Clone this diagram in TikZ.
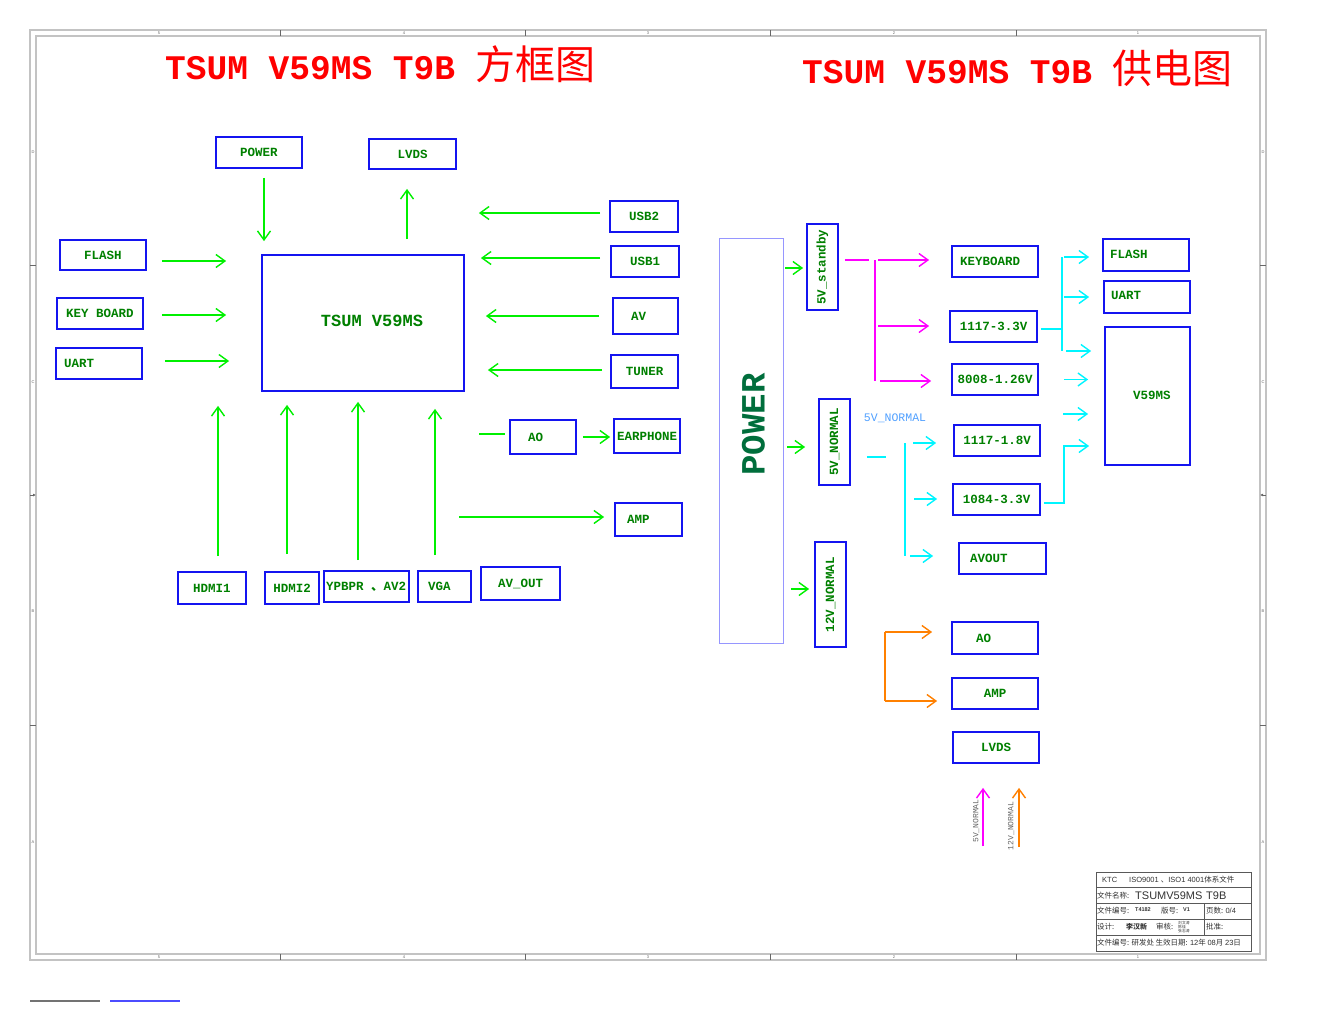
\documentclass[tikz,border=0pt]{standalone}
\usepackage{fontspec}
\usepackage{graphicx}
\setmainfont{Liberation Sans}
\setmonofont{Liberation Mono}
\newfontfamily\cjk{Noto Sans CJK SC}
\usetikzlibrary{arrows.meta,calc}
\definecolor{bxblue}{RGB}{20,20,240}
\definecolor{txgreen}{RGB}{0,128,0}
\definecolor{argreen}{RGB}{0,240,0}
\definecolor{mag}{RGB}{255,0,255}
\definecolor{cyn}{RGB}{0,245,255}
\definecolor{org}{RGB}{255,128,0}
\definecolor{frm}{RGB}{195,195,195}
\definecolor{pwrgreen}{RGB}{0,110,60}
\definecolor{lblue}{RGB}{80,160,255}
\definecolor{pwrbox}{RGB}{150,150,255}
\tikzset{
  bx/.style={draw=bxblue, line width=1.8pt, inner sep=0pt, text=txgreen,
    font=\ttfamily\bfseries\fontsize{12.5}{14}\selectfont},
  tipb/.style={-{Straight Barb[length=9pt,width=13pt]}},
  ga/.style={draw=argreen, line width=1.4pt, tipb},
  gl/.style={draw=argreen, line width=1.4pt},
  ma/.style={draw=mag, line width=1.4pt, tipb},
  ml/.style={draw=mag, line width=1.4pt},
  ca/.style={draw=cyn, line width=1.4pt, tipb},
  cl/.style={draw=cyn, line width=1.4pt},
  oa/.style={draw=org, line width=1.4pt, tipb},
  ol/.style={draw=org, line width=1.4pt},
  ttl/.style={anchor=base west, inner sep=0pt, text=red},
  tick/.style={draw=black!60, line width=0.6pt},
  flab/.style={fill=white, inner sep=0.5pt, text=black!60, font=\fontsize{4}{4}\selectfont},
  tb/.style={anchor=west, inner sep=0pt, text=black!80, font=\cjk\fontsize{7.5}{8}\selectfont},
}
\begin{document}
\begin{tikzpicture}[x=1pt,y=-1pt]
\useasboundingbox[fill=white] (0,0) rectangle (1320,1020);
% frame
\draw[frm, line width=1.5pt] (30,30) rectangle (1266,960);
\draw[frm, line width=1.5pt] (36,36) rectangle (1260,954);
\foreach \x in {280,525,770,1016} {
  \draw[tick] (\x,30) -- (\x,36);
  \draw[tick] (\x,954) -- (\x,960);
}
\foreach \y in {265,725} {
  \draw[tick] (30,\y) -- (36,\y);
  \draw[tick] (1260,\y) -- (1266,\y);
}
\draw[tick, -{Latex[length=3pt,width=3pt]}] (30,495) -- (36,495);
\draw[tick, -{Latex[length=3pt,width=3pt]}] (1266,495) -- (1260,495);
\foreach \x/\t in {159/5,404/4,648/3,894/2,1138/1} {
  \node[flab] (ft\t) at (\x,33) {\t};
  \node[flab] (fb\t) at (\x,957) {\t};
}
\foreach \y/\t in {152/D,382/C,611/B,842/A} {
  \node[flab] (fl\t) at (33,\y) {\t};
  \node[flab] (fr\t) at (1263,\y) {\t};
}
% titles
\node[ttl] (title1) at (165,79) {\ttfamily\bfseries\fontsize{34.5}{40}\selectfont TSUM V59MS T9B \cjk\mdseries\fontsize{40}{42}\selectfont 方框图};
\node[ttl] (title2) at (802,83) {\ttfamily\bfseries\fontsize{34.5}{40}\selectfont TSUM V59MS T9B \cjk\mdseries\fontsize{40}{42}\selectfont 供电图};

% ---------- left block diagram ----------
\node[bx, minimum width=86pt, minimum height=31pt] (power) at (259,152.5) {POWER};
\node[bx, minimum width=87pt, minimum height=30pt] (lvds) at (412.5,154) {LVDS};
\node[bx, minimum width=86pt, minimum height=30pt] (flash) at (103,255) {FLASH};
\node[bx, minimum width=86pt, minimum height=31pt] (keyb) at (100,313.5) {KEY BOARD};
\node[bx, minimum width=86pt, minimum height=31pt] (uart) at (99,363.5) {\makebox[86pt][l]{\hspace{8pt}UART}};
\node[bx, minimum width=202pt, minimum height=136pt, font=\ttfamily\bfseries\fontsize{17}{19}\selectfont] (tsum) at (363,323) {\raisebox{4pt}{\hspace*{18pt}TSUM V59MS}};
\node[bx, minimum width=68pt, minimum height=31pt] (usb2) at (644,216.5) {USB2};
\node[bx, minimum width=68pt, minimum height=31pt] (usb1) at (645,261.5) {USB1};
\node[bx, minimum width=65pt, minimum height=36pt] (av) at (645.5,316) {\makebox[65pt][l]{\hspace{18pt}AV}};
\node[bx, minimum width=67pt, minimum height=33pt] (tuner) at (644.5,371.5) {TUNER};
\node[bx, minimum width=66pt, minimum height=34pt] (ao) at (543,437) {\makebox[66pt][l]{\hspace{18pt}AO}};
\node[bx, minimum width=66pt, minimum height=34pt] (earph) at (647,436) {\makebox[66pt][c]{EARPHONE}};
\node[bx, minimum width=67pt, minimum height=33pt] (amp) at (648.5,519.5) {\makebox[67pt][l]{\hspace{12pt}AMP}};
\node[bx, minimum width=68pt, minimum height=32pt] (hdmi1) at (212,588) {HDMI1};
\node[bx, minimum width=54pt, minimum height=32pt] (hdmi2) at (292,588) {HDMI2};
\node[bx, minimum width=85pt, minimum height=31pt] (ypbpr) at (366.5,586.5) {\makebox[85pt][l]{\hspace{2pt}YPBPR {\cjk 、}AV2}};
\node[bx, minimum width=53pt, minimum height=31pt] (vga) at (444.5,586.5) {\makebox[53pt][l]{\hspace{10pt}VGA}};
\node[bx, minimum width=79pt, minimum height=33pt] (avout) at (520.5,583.5) {AV\_OUT};

\draw[ga, shorten <=9pt, shorten >=13pt] ([xshift=5pt]power.south) -- ([xshift=5pt]power.south |- tsum.north);
\draw[ga, shorten <=15pt, shorten >=19pt] ([xshift=-5.5pt]lvds.south |- tsum.north) -- ([xshift=-5.5pt]lvds.south);
\draw[ga, shorten <=15pt, shorten >=35pt] ([yshift=-6pt]flash.east) -- ([yshift=-6pt]flash.east -| tsum.west);
\draw[ga, shorten <=18pt, shorten >=35pt] ([yshift=-1.5pt]keyb.east) -- ([yshift=-1.5pt]keyb.east -| tsum.west);
\draw[ga, shorten <=22pt, shorten >=32pt] ([yshift=2.5pt]uart.east) -- ([yshift=2.5pt]uart.east -| tsum.west);
\draw[ga, shorten <=9pt, shorten >=14pt] ([yshift=3.5pt]usb2.west) -- ([yshift=3.5pt]usb2.west -| tsum.east);
\draw[ga, shorten <=10pt, shorten >=16pt] ([yshift=3.5pt]usb1.west) -- ([yshift=3.5pt]usb1.west -| tsum.east);
\draw[ga, shorten <=13pt, shorten >=21pt] (av.west) -- (av.west -| tsum.east);
\draw[ga, shorten <=8pt, shorten >=23pt] ([yshift=1.5pt]tuner.west) -- ([yshift=1.5pt]tuner.west -| tsum.east);
\coordinate (aoin) at (479,434);
\draw[gl, shorten >=4pt] (aoin) -- ([yshift=3pt]ao.west);
\draw[ga, shorten <=6pt, shorten >=3pt] (ao.east) -- (ao.east -| earph.west);
\coordinate (ampin) at (459,517);
\draw[ga, shorten >=10pt] (ampin) -- ([yshift=2.5pt]amp.west);
\draw[ga, shorten <=15pt, shorten >=14pt] ([xshift=6pt]hdmi1.north) -- ([xshift=6pt]hdmi1.north |- tsum.south);
\draw[ga, shorten <=17pt, shorten >=13pt] ([xshift=-5pt]hdmi2.north) -- ([xshift=-5pt]hdmi2.north |- tsum.south);
\draw[ga, shorten <=10pt, shorten >=10pt] ([xshift=-8.5pt]ypbpr.north) -- ([xshift=-8.5pt]ypbpr.north |- tsum.south);
\draw[ga, shorten <=15pt, shorten >=17pt] ([xshift=-9.5pt]vga.north) -- ([xshift=-9.5pt]vga.north |- tsum.south);

% ---------- right power diagram ----------
\node[draw=pwrbox, line width=0.8pt, minimum width=64pt, minimum height=405pt, inner sep=0pt, text=pwrgreen,
  font=\ttfamily\bfseries\fontsize{34}{36}\selectfont] (pwr) at (751,440.5) {\hspace*{5pt}\rotatebox{90}{\hspace*{32pt}POWER}};
\node[bx, minimum width=31pt, minimum height=86pt] (s5) at (822.5,267) {\rotatebox{90}{5V\_standby}};
\node[bx, minimum width=31pt, minimum height=86pt] (n5) at (834.5,442) {\rotatebox{90}{5V\_NORMAL}};
\node[bx, minimum width=31pt, minimum height=105pt] (n12) at (830.5,594.5) {\rotatebox{90}{12V\_NORMAL}};
\node[bx, minimum width=86pt, minimum height=31pt] (kb) at (995,261.5) {\makebox[86pt][l]{\hspace{8pt}KEYBOARD}};
\node[bx, minimum width=87pt, minimum height=31pt] (v33a) at (993.5,326.5) {1117-3.3V};
\node[bx, minimum width=86pt, minimum height=31pt] (v126) at (995,379.5) {8008-1.26V};
\node[bx, minimum width=86pt, minimum height=31pt] (v18) at (997,440.5) {1117-1.8V};
\node[bx, minimum width=87pt, minimum height=31pt] (v84) at (996.5,499.5) {1084-3.3V};
\node[bx, minimum width=87pt, minimum height=31pt] (avo) at (1002.5,558.5) {\makebox[87pt][l]{\hspace{11pt}AVOUT}};
\node[bx, minimum width=86pt, minimum height=32pt] (ao2) at (995,638) {\makebox[86pt][l]{\hspace{24pt}AO}};
\node[bx, minimum width=86pt, minimum height=31pt] (amp2) at (995,693.5) {AMP};
\node[bx, minimum width=86pt, minimum height=31pt] (lvds2) at (996,747.5) {LVDS};
\node[bx, minimum width=86pt, minimum height=32pt] (fl2) at (1146,255) {\makebox[86pt][l]{\hspace{7pt}\raisebox{2pt}{FLASH}}};
\node[bx, minimum width=86pt, minimum height=32pt] (ua2) at (1147,297) {\makebox[86pt][l]{\hspace{7pt}\raisebox{3pt}{UART}}};
\node[bx, minimum width=85pt, minimum height=138pt] (v59) at (1147.5,396) {\makebox[85pt][l]{\hspace{28pt}\raisebox{2pt}{V59MS}}};

\node[inner sep=0pt, text=lblue, font=\ttfamily\fontsize{11.5}{12}\selectfont] (n5lab) at (895,418) {5V\_NORMAL};

% green from POWER
\draw[ga, shorten <=2pt, shorten >=3pt] ([yshift=-1pt]s5.west -| pwr.east) -- ([yshift=-1pt]s5.west);
\draw[ga, shorten <=4pt, shorten >=13pt] ([yshift=-5pt]n5.west -| pwr.east) -- ([yshift=-5pt]n5.west);
\draw[ga, shorten <=8pt, shorten >=5pt] ([yshift=5.5pt]n12.west -| pwr.east) -- ([yshift=5.5pt]n12.west);

% magenta
\coordinate (mj1) at (875,260);
\coordinate (mj2) at (875,326);
\coordinate (mj3) at (875,381);
\draw[ml, shorten <=6pt, shorten >=6pt] ([yshift=7pt]s5.east) -- (mj1);
\draw[ml] (mj1) -- (mj3);
\draw[ma, shorten <=3pt, shorten >=22pt] (mj1) -- (mj1 -| kb.west);
\draw[ma, shorten <=3pt, shorten >=20pt] (mj2) -- (mj2 -| v33a.west);
\draw[ma, shorten <=5pt, shorten >=20pt] (mj3) -- (mj3 -| v126.west);

% cyan left
\coordinate (cj0) at (886,457);
\coordinate (cj1) at (905,443);
\coordinate (cj2) at (905,499);
\coordinate (cj3) at (905,556);
\draw[cl, shorten <=16pt] ([yshift=-15pt]n5.east) -- (cj0);
\draw[cl] (cj1) -- (cj3);
\draw[ca, shorten <=8pt, shorten >=17pt] (cj1) -- (cj1 -| v18.west);
\draw[ca, shorten <=9pt, shorten >=15pt] (cj2) -- (cj2 -| v84.west);
\draw[ca, shorten <=5pt, shorten >=25pt] (cj3) -- (cj3 -| avo.west);

% cyan right
\coordinate (rj1) at (1062,257);
\coordinate (rj3) at (1062,351);
\coordinate (c414) at (1063,414);
\coordinate (rb) at (1064,446);
\draw[cl] (rj1) -- (rj3);
\draw[cl, shorten <=3pt] ([yshift=-2.5pt]v33a.east) -- ([yshift=-2.5pt]v33a.east -| rj1);
\draw[ca, shorten <=2pt, shorten >=13pt] (rj1) -- (rj1 -| fl2.west);
\draw[ca, shorten <=2pt, shorten >=14pt] (rj1 |- ua2.west) -- (ua2.west);
\draw[ca, shorten <=4pt, shorten >=13pt] (rj3) -- (rj3 -| v59.west);
\draw[ca, shorten <=25pt, shorten >=16pt] (v126.east) -- (v126.east -| v59.west);
\draw[ca, shorten >=16pt] (c414) -- (c414 -| v59.west);
\draw[ca, shorten <=3pt, shorten >=15pt] ([yshift=-3.5pt]v84.east) -| (rb) -- (rb -| v59.west);

% orange
\coordinate (oj1) at (885,632);
\coordinate (oj2) at (885,701);
\draw[ol] (oj1) -- (oj2);
\draw[oa, shorten >=19pt] (oj1) -- (oj1 -| ao2.west);
\draw[oa, shorten >=14pt] (oj2) -- (oj2 -| amp2.west);

% bottom supply arrows
\coordinate (bm) at (983,846);
\coordinate (bo) at (1019,847);
\draw[ma, shorten >=24pt] (bm) -- (bm |- lvds2.south);
\draw[oa, shorten >=24pt] (bo) -- (bo |- lvds2.south);
\node[rotate=90, inner sep=0pt, text=black!60, font=\ttfamily\fontsize{8}{8}\selectfont] (bml) at (976,821) {5V\_NORMAL};
\node[rotate=90, inner sep=0pt, text=black!60, font=\ttfamily\fontsize{8}{8}\selectfont] (bol) at (1011,826) {12V\_NORMAL};

% ---------- title block ----------
\draw[black!65, line width=0.6pt] (1096,872) rectangle (1251,951);
\foreach \y in {887,903,919,935} \draw[black!65, line width=0.6pt] (1096,\y) -- (1251,\y);
\draw[black!65, line width=0.6pt] (1204,903) -- (1204,935);
\node[tb] (tb1) at (1102,879.5) {\fontspec{Liberation Sans}KTC};
\node[tb] (tb2) at (1129,879.5) {{\fontspec{Liberation Sans}ISO9001 }、{\fontspec{Liberation Sans}ISO1 4001}体系文件};
\node[tb] (tb3) at (1097,895.5) {文件名称:};
\node[tb, font=\fontsize{11}{12}\selectfont] (tb4) at (1135,895.5) {TSUMV59MS};
\node[tb, font=\fontsize{11}{12}\selectfont] (tb5) at (1206,895.5) {T9B};
\node[tb] (tb6) at (1097,911) {文件编号:};
\node[tb, font=\bfseries\fontsize{5.5}{6}\selectfont] (tb7) at (1135,910) {T4182};
\node[tb] (tb8) at (1161,911) {版号:};
\node[tb, font=\bfseries\fontsize{5.5}{6}\selectfont] (tb9) at (1183,910) {V1};
\node[tb] (tb10) at (1206,911) {页数: {\fontspec{Liberation Sans}0/4}};
\node[tb] (tb11) at (1097,927) {设计:};
\node[tb, font=\cjk\bfseries\fontsize{7}{7}\selectfont] (tb12) at (1126,927) {李汉新};
\node[tb] (tb13) at (1156,927) {审核:};
\node[tb, font=\cjk\fontsize{3.8}{4}\selectfont, align=left] (tb14) at (1178,927) {刘文涛\\陈佳\\张志涛};
\node[tb] (tb15) at (1206,927) {批准:};
\node[tb] (tb16) at (1097,943) {文件编号: 研发处 生效日期: {\fontspec{Liberation Sans}12}年 {\fontspec{Liberation Sans}08}月 {\fontspec{Liberation Sans}23}日};

% stray lines bottom-left
\draw[black!55, line width=1.5pt] (30,1001) -- (100,1001);
\draw[blue!70, line width=1.5pt] (110,1001) -- (180,1001);
\end{tikzpicture}
\end{document}
